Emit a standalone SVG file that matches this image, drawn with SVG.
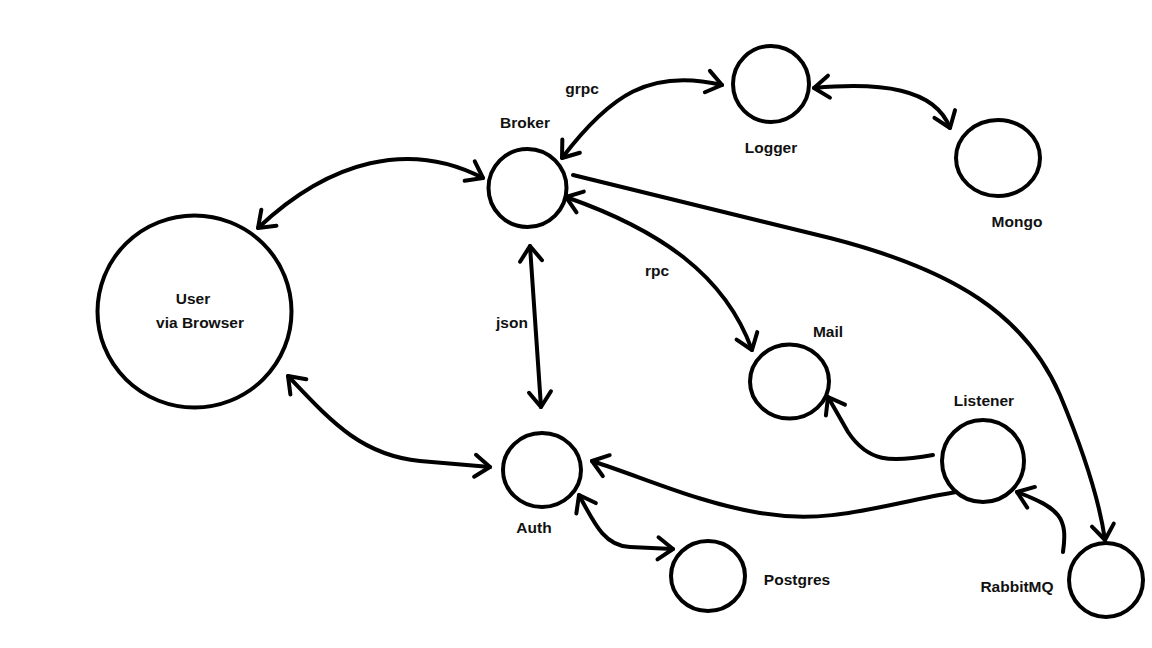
<svg xmlns="http://www.w3.org/2000/svg" width="1152" height="648" viewBox="0 0 1152 648">
<style>
.n{fill:none;stroke:#000;stroke-width:4}
.c{fill:none;stroke:#000;stroke-width:4;stroke-linecap:round;stroke-linejoin:round}
.t{font-family:"Liberation Sans",Arial,sans-serif;font-weight:bold;font-size:15.5px;fill:#111;text-anchor:middle}
</style>
<defs>
<marker id="a" markerUnits="userSpaceOnUse" markerWidth="30" markerHeight="30" viewBox="-22 -15 30 30" refX="0" refY="0" orient="auto-start-reverse" overflow="visible">
<path d="M-15,-11 L0,0 L-15,11" fill="none" stroke="#000" stroke-width="4" stroke-linecap="round" stroke-linejoin="round"/>
</marker>
</defs>
<rect width="1152" height="648" fill="#fff"/>
<g id="connectors">
<path class="c" d="M258,228 C330,160 410,140 483,178" marker-start="url(#a)" marker-end="url(#a)"/>
<path class="c" d="M288,376 C330,420 360,455 420,461 L490,467" marker-start="url(#a)" marker-end="url(#a)"/>
<path class="c" d="M562,158 C610,95 650,68 722,85" marker-start="url(#a)" marker-end="url(#a)"/>
<path class="c" d="M814,88 C880,82 935,88 950,128" marker-start="url(#a)" marker-end="url(#a)"/>
<path class="c" d="M530,246 L541,407" marker-start="url(#a)" marker-end="url(#a)"/>
<path class="c" d="M566,197 C660,230 725,275 752,350" marker-start="url(#a)" marker-end="url(#a)"/>
<path class="c" d="M573,175 L830,238 C955,270 1025,315 1060,395 C1088,462 1100,505 1105,540" marker-end="url(#a)"/>
<path class="c" d="M933,455 C890,463 868,462 848,432 L828,397" marker-end="url(#a)"/>
<path class="c" d="M956,492 C880,505 830,525 760,513 C700,503 650,480 592,461" marker-end="url(#a)"/>
<path class="c" d="M1063,552 C1068,518 1060,508 1017,492" marker-end="url(#a)"/>
<path class="c" d="M579,495 C595,525 605,546 630,547 L673,549" marker-start="url(#a)" marker-end="url(#a)"/>
</g>
<g id="broker"><circle class="n" cx="527.5" cy="188" r="39"/><text class="t" x="525" y="128">Broker</text></g>
<g id="logger"><circle class="n" cx="771" cy="84" r="38"/><text class="t" x="771" y="153">Logger</text></g>
<g id="mongo"><ellipse class="n" cx="998" cy="158" rx="42" ry="38"/><text class="t" x="1017" y="227">Mongo</text></g>
<g id="user"><ellipse class="n" cx="194.5" cy="311.5" rx="97" ry="96"/><text class="t" x="193" y="304">User</text><text class="t" x="200" y="328">via Browser</text></g>
<g id="auth"><ellipse class="n" cx="542" cy="470" rx="39" ry="37"/><text class="t" x="534" y="533">Auth</text></g>
<g id="postgres"><ellipse class="n" cx="708" cy="576" rx="37" ry="35"/><text class="t" x="797" y="585">Postgres</text></g>
<g id="mail"><ellipse class="n" cx="789.5" cy="381.5" rx="39.5" ry="37"/><text class="t" x="828" y="337">Mail</text></g>
<g id="listener"><circle class="n" cx="983" cy="461" r="41"/><text class="t" x="984" y="406">Listener</text></g>
<g id="rabbitmq"><circle class="n" cx="1106" cy="580" r="37"/><text class="t" x="1017" y="592">RabbitMQ</text></g>
<g id="labels">
<text class="t" x="582" y="94">grpc</text>
<text class="t" x="512" y="328">json</text>
<text class="t" x="657" y="276">rpc</text>
</g>
</svg>
